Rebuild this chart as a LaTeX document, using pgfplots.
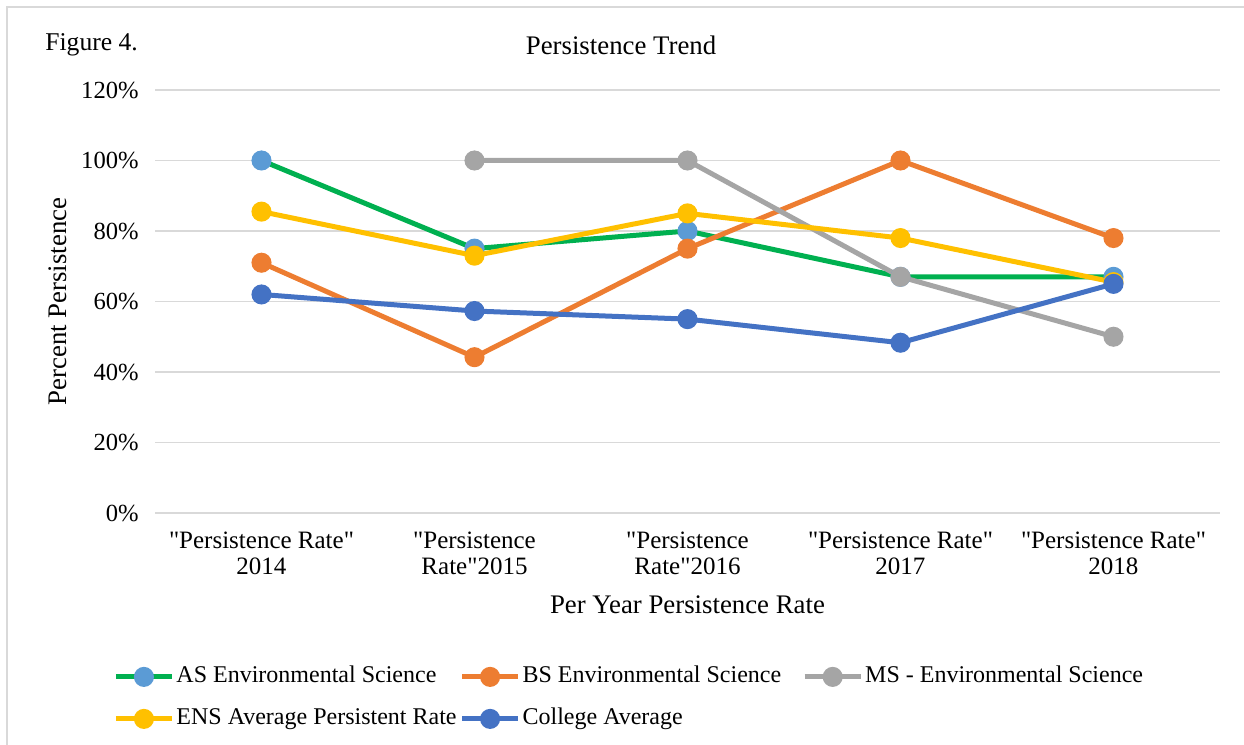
\documentclass[border=0pt]{standalone}
\usepackage{pgfplots}
\pgfplotsset{compat=1.18}
\usepackage{fontspec}
\setmainfont{Liberation Serif}[Ligatures=TeXOff]
\definecolor{cgreen}{HTML}{00B050}
\definecolor{corange}{HTML}{ED7D31}
\definecolor{cgrey}{HTML}{A5A5A5}
\definecolor{cyellow}{HTML}{FFC000}
\definecolor{cblue}{HTML}{4472C4}
\definecolor{clblue}{HTML}{5B9BD5}
\definecolor{cgrid}{HTML}{D9D9D9}
\begin{document}
\fontsize{12}{13}\selectfont
\begin{tikzpicture}
\begin{axis}[
  at={(77.5pt,116pt)}, anchor=south west,
  scale only axis, width=532.5pt, height=211.5pt,
  xmin=-0.5, xmax=4.5, ymin=0, ymax=120,
  ytick={0,20,...,120}, xtick={0,1,2,3,4},
  xticklabels={{"Persistence Rate"\\2014},{"Persistence\\Rate"2015},{"Persistence\\Rate"2016},{"Persistence Rate"\\2017},{"Persistence Rate"\\2018}},
  xticklabel style={align=center, yshift=-5.5pt, font=\fontsize{12.5}{13}\selectfont},
  yticklabel style={xshift=-4pt, font=\fontsize{12.3}{13}\selectfont},
  yticklabel={\pgfmathprintnumber{\tick}\%},
  /pgf/number format/assume math mode=true,
  axis line style={draw=none}, tick style={draw=none}, major tick length=0pt,
  ymajorgrids, grid style={line width=0.75pt, color=cgrid},
  clip=false,
  every axis plot/.append style={line width=2.5pt, mark=*, mark size=3.75pt},
  xlabel={Per Year Persistence Rate},
  xlabel style={at={(axis description cs:0.5,-0.2175)}, anchor=center, font=\fontsize{13.4}{14}\selectfont},
  ylabel={Percent Persistence},
  ylabel style={at={(axis description cs:-0.0911,0.5)}, anchor=center, font=\fontsize{13.4}{14}\selectfont},
  legend columns=3,
  legend cell align=left,
  legend image code/.code={\draw[#1, mark repeat=2, mark phase=2] plot coordinates {(0pt,0pt) (14pt,0pt) (28pt,0pt)};},
  legend style={at={(axis description cs:-0.0394,-0.3546)}, anchor=north west, draw=none, fill=none, inner sep=0pt,
    font=\fontsize{12}{13}\selectfont,
    nodes={inner sep=1pt, text height=8.5pt, text depth=3pt},
    row sep=7.5pt,
    /tikz/every odd column/.style={column sep=0pt},
    /tikz/every even column/.style={column sep=0.5pt}},
]
\addplot[color=cgreen, mark options={draw=clblue, fill=clblue}] coordinates {(0,100) (1,75) (2,80) (3,67) (4,67)};
\addlegendentry{AS Environmental Science}
\addplot[color=corange, mark options={draw=corange, fill=corange}] coordinates {(0,71) (1,44.2) (2,75) (3,100) (4,78)};
\addlegendentry{BS Environmental Science\rule{9pt}{0pt}}
\addplot[color=cgrey, mark options={draw=cgrey, fill=cgrey}] coordinates {(1,100) (2,100) (3,67) (4,50)};
\addlegendentry{MS - Environmental Science}
\addplot[color=cyellow, mark options={draw=cyellow, fill=cyellow}] coordinates {(0,85.5) (1,73) (2,85) (3,78) (4,65.5)};
\addlegendentry{ENS Average Persistent Rate}
\addplot[color=cblue, mark options={draw=cblue, fill=cblue}] coordinates {(0,62) (1,57.3) (2,55) (3,48.3) (4,65)};
\addlegendentry{College Average}
\node[anchor=center, font=\fontsize{13.4}{14}\selectfont] at (axis description cs:0.4376,1.1064) {Persistence Trend};
\node[anchor=west, inner sep=0pt, font=\fontsize{12.8}{14}\selectfont] at (axis description cs:-0.1033,1.1064) {Figure 4.};
\end{axis}
\draw[color=cgrid, line width=1pt] (3.5pt,0pt) -- (3.5pt,369pt) -- (622pt,369pt);
\pgfresetboundingbox
\useasboundingbox (0pt,0pt) rectangle (622pt,372.5pt);
\end{tikzpicture}
\end{document}
